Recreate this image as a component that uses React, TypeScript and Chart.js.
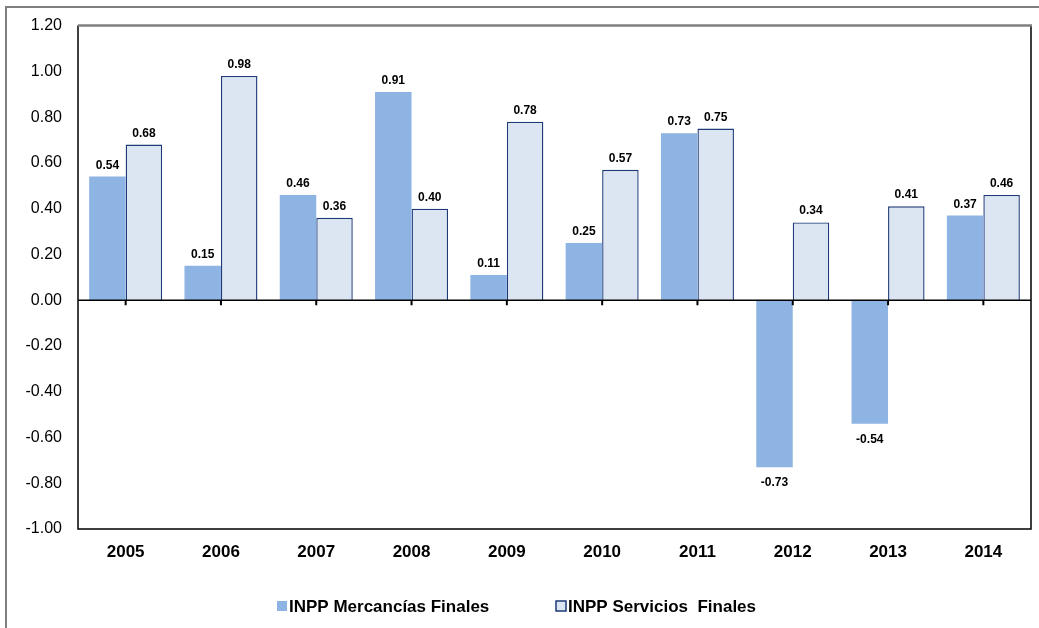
import React, { useEffect, useRef } from "react";
import { Chart, registerables } from "chart.js";

Chart.register(...registerables);

const years = ["2005", "2006", "2007", "2008", "2009", "2010", "2011", "2012", "2013", "2014"];
const mercancias = [0.54, 0.15, 0.46, 0.91, 0.11, 0.25, 0.73, -0.73, -0.54, 0.37];
const servicios = [0.68, 0.98, 0.36, 0.4, 0.78, 0.57, 0.75, 0.34, 0.41, 0.46];
const seriesNames = ["INPP Mercancías Finales", "INPP Servicios  Finales"];
const yMin = -1.0;
const yMax = 1.2;
const yStep = 0.2;

const COL_MERC = "#8EB4E3";
const COL_SERV = "#DCE6F2";
const COL_SERV_BORDER = "#1F3A78";

const decorPlugin = {
  id: "decor",
  afterDatasetsDraw(chart: any) {
    const ctx = chart.ctx;
    ctx.save();
    ctx.fillStyle = "#000";
    ctx.font = "bold 12px Arial, 'Liberation Sans', sans-serif";
    ctx.textAlign = "center";
    ctx.textBaseline = "alphabetic";
    chart.data.datasets.forEach((ds: any, di: number) => {
      const meta = chart.getDatasetMeta(di);
      meta.data.forEach((bar: any, i: number) => {
        const v = ds.data[i];
        const label = v.toFixed(2);
        if (v >= 0) {
          ctx.fillText(label, bar.x, bar.y - 8);
        } else {
          ctx.fillText(label, bar.x, bar.y + 19);
        }
      });
    });
    ctx.restore();
  },
  afterDraw(chart: any) {
    const ctx = chart.ctx;
    const a = chart.chartArea;
    const xs = chart.scales.x;
    const ys = chart.scales.y;
    ctx.save();
    // outer frame
    ctx.strokeStyle = "#7F7F7F";
    ctx.lineWidth = 2;
    ctx.beginPath();
    ctx.moveTo(6, chart.height);
    ctx.lineTo(6, 7);
    ctx.lineTo(chart.width, 7);
    ctx.stroke();
    // plot area border
    ctx.strokeStyle = "#000";
    ctx.lineWidth = 1.5;
    ctx.beginPath();
    ctx.moveTo(a.left, a.top);
    ctx.lineTo(a.left, a.bottom);
    ctx.lineTo(a.right, a.bottom);
    ctx.lineTo(a.right, a.top);
    ctx.stroke();
    ctx.strokeStyle = "#7F7F7F";
    ctx.lineWidth = 2.5;
    ctx.beginPath();
    ctx.moveTo(a.left, a.top);
    ctx.lineTo(a.right + 1, a.top);
    ctx.stroke();
    // zero line
    const y0 = ys.getPixelForValue(0);
    ctx.strokeStyle = "#000";
    ctx.lineWidth = 1.5;
    ctx.beginPath();
    ctx.moveTo(a.left, y0);
    ctx.lineTo(a.right, y0);
    ctx.stroke();
    ctx.lineWidth = 2;
    ctx.beginPath();
    years.forEach((_, i) => {
      const x = xs.getPixelForValue(i);
      ctx.moveTo(x, y0);
      ctx.lineTo(x, y0 + 5);
    });
    ctx.stroke();
    // legend
    const ly = 606;
    ctx.font = "bold 17px Arial, 'Liberation Sans', sans-serif";
    ctx.textAlign = "left";
    ctx.textBaseline = "middle";
    ctx.fillStyle = COL_MERC;
    ctx.fillRect(277, ly - 5, 10, 10);
    ctx.fillStyle = "#000";
    ctx.fillText(seriesNames[0], 289, ly + 1);
    ctx.fillStyle = COL_SERV;
    ctx.fillRect(556, ly - 5, 10, 10);
    ctx.strokeStyle = COL_SERV_BORDER;
    ctx.lineWidth = 1.5;
    ctx.strokeRect(556, ly - 5, 10, 10);
    ctx.fillStyle = "#000";
    ctx.fillText(seriesNames[1], 568, ly + 1);
    ctx.restore();
  },
};

export default function App() {
  const ref = useRef<HTMLCanvasElement | null>(null);
  useEffect(() => {
    document.body.style.margin = "0";
    if (!ref.current) return;
    const chart = new Chart(ref.current, {
      type: "bar",
      data: {
        labels: years,
        datasets: [
          {
            label: seriesNames[0],
            data: mercancias,
            backgroundColor: COL_MERC,
            borderWidth: 0,
            barPercentage: 1,
            categoryPercentage: 0.766,
          },
          {
            label: seriesNames[1],
            data: servicios,
            backgroundColor: COL_SERV,
            borderColor: COL_SERV_BORDER,
            borderWidth: 1.4,
            barPercentage: 1,
            categoryPercentage: 0.766,
          },
        ],
      },
      options: {
        responsive: false,
        animation: false,
        devicePixelRatio: 1,
        layout: { padding: { top: 24, right: 8, left: 0, bottom: 59 } },
        plugins: {
          legend: { display: false },
          tooltip: { enabled: false },
          title: { display: false },
        },
        scales: {
          x: {
            grid: { display: false, drawTicks: false },
            border: { display: false },
            ticks: {
              color: "#000",
              padding: 13,
              font: { family: "Arial, 'Liberation Sans', sans-serif", size: 17, weight: "bold" },
            },
            afterFit: (s: any) => {
              s.height = 40;
            },
          },
          y: {
            min: yMin,
            max: yMax,
            grid: { display: false, drawTicks: false },
            border: { display: false },
            ticks: {
              stepSize: yStep,
              color: "#000",
              padding: 16,
              font: { family: "Arial, 'Liberation Sans', sans-serif", size: 16 },
              callback: (v: any) => Number(v).toFixed(2),
            },
            afterFit: (s: any) => {
              s.width = 78;
            },
          },
        },
      },
      plugins: [decorPlugin],
    });
    return () => chart.destroy();
  }, []);
  return (
    <div style={{ position: "absolute", left: 0, top: 0, width: 1039, height: 628, background: "#fff" }}>
      <canvas ref={ref} width={1039} height={628} style={{ display: "block" }} />
    </div>
  );
}
